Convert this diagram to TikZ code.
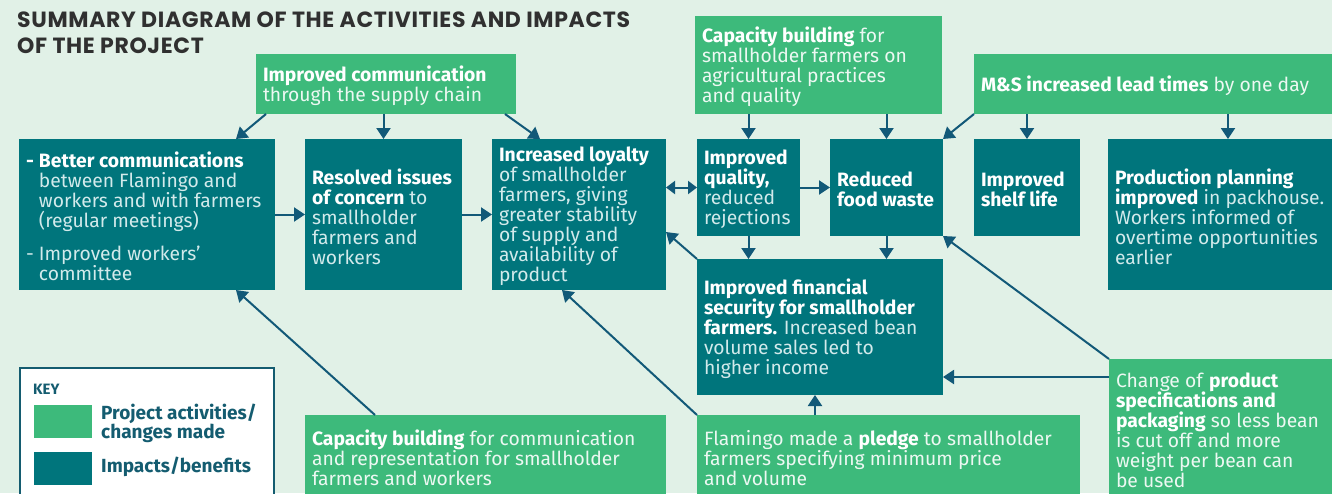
\documentclass[tikz,border=0pt]{standalone}
\usepackage{fontspec}
\setmainfont{Fira Sans}
\newfontfamily\titlefont{Poppins}[LetterSpace=3]
\usetikzlibrary{arrows.meta,calc}
\definecolor{bg}{RGB}{225,241,231}
\definecolor{tealbox}{RGB}{0,117,124}
\definecolor{greenbox}{RGB}{61,186,123}
\definecolor{arr}{RGB}{18,89,120}
\definecolor{lighttxt}{RGB}{210,234,235}
\definecolor{keytxt}{RGB}{20,92,112}
\definecolor{titletxt}{RGB}{48,48,48}
\newcommand\hb[1]{\textbf{\color{white}#1}}
\newcommand\mkbox[7]{%
  \node[#1, minimum width=#5pt, minimum height=#6pt] (#2) at (#3,#4) {};
  \node[#1 txt] (#2t) at ([xshift=7pt,yshift=-2pt]#2.west) {#7};}
\hyphenpenalty=10000
\exhyphenpenalty=10000
\begin{document}
\begin{tikzpicture}[x=1pt,y=-1pt,
  every node/.style={font=\fontsize{19.3}{20}\selectfont},
  boxbase/.style={anchor=north west, inner sep=0pt, outer sep=0pt},
  impact/.style={boxbase, fill=tealbox},
  activity/.style={boxbase, fill=greenbox},
  txtbase/.style={anchor=west, inner sep=0pt, outer sep=0pt, align=left},
  impact txt/.style={txtbase, text=lighttxt},
  activity txt/.style={txtbase, text=white!90!greenbox},
  conn/.style={draw=arr, line width=2pt, -{Triangle[width=14pt,length=11pt]}},
  dconn/.style={draw=arr, line width=2pt, {Triangle[width=13pt,length=9pt]}-{Triangle[width=13pt,length=9pt]}},
]
\path[use as bounding box, fill=bg] (0,0) rectangle (1332,493);
\begin{scope}
\clip (0,0) rectangle (1332,493);
% title
\node[anchor=north west, inner sep=0pt, align=left, text=titletxt,
  font=\fontsize{22}{26}\selectfont\titlefont\bfseries] (title) at (17,12)
  {SUMMARY DIAGRAM OF THE ACTIVITIES AND IMPACTS\\OF THE PROJECT};

% activities (green)
\mkbox{activity}{comm}{256}{54}{260}{60}
  {\hb{Improved communication}\\through the supply chain}
\mkbox{activity}{capt}{695}{16}{247}{98}
  {\hb{Capacity building} for\\smallholder farmers on\\agricultural practices\\and quality}
\mkbox{activity}{ms}{974}{54}{366}{60}
  {\hb{M\&S increased lead times} by one day}
\mkbox{activity}{capb}{305}{415}{361}{82}
  {\hb{Capacity building} for communication\\and representation for smallholder\\farmers and workers}
\mkbox{activity}{pledge}{697}{415}{383}{82}
  {Flamingo made a \hb{pledge} to smallholder\\farmers specifying minimum price\\and volume}
\mkbox{activity}{chg}{1109}{359}{240}{138}
  {Change of \hb{product}\\\hb{specifications and}\\\hb{packaging} so less bean\\is cut off and more\\weight per bean can\\be used}

% impacts (teal)
\mkbox{impact}{a}{19}{139}{256}{151}
  {\makebox[13pt][l]{\color{white}\bfseries -}\hb{Better communications}\\
   \hspace*{13pt}between Flamingo and\\
   \hspace*{13pt}workers and with farmers\\
   \hspace*{13pt}(regular meetings)\\[13pt]
   \makebox[13pt][l]{-}Improved workers'\\
   \hspace*{13pt}committee}
\mkbox{impact}{b}{305}{139}{157}{151}
  {\hb{Resolved issues}\\\hb{of concern} to\\smallholder\\farmers and\\workers}
\mkbox{impact}{c}{492}{139}{174}{151}
  {\hb{Increased loyalty}\\of smallholder\\farmers, giving\\greater stability\\of supply and\\availability of\\product}
\mkbox{impact}{d}{697}{139}{103}{97}
  {\hb{Improved}\\\hb{quality,}\\reduced\\rejections}
\mkbox{impact}{e}{830}{139}{113}{97}
  {\hb{Reduced}\\\hb{food waste}}
\mkbox{impact}{f}{974}{139}{106}{97}
  {\hb{Improved}\\\hb{shelf life}}
\mkbox{impact}{g}{1108}{139}{240}{151}
  {\hb{Production planning}\\\hb{improved} in packhouse.\\Workers informed of\\overtime opportunities\\earlier}
\mkbox{impact}{h}{697}{259}{246}{136}
  {\hb{Improved financial}\\\hb{security for smallholder}\\\hb{farmers.} Increased bean\\volume sales led to\\higher income}

% key
\node[anchor=north west, draw=keytxt, line width=1.5pt, fill=white, minimum width=254pt, minimum height=140pt, inner sep=0pt] (key) at (19,367) {};
\node[anchor=west, inner sep=0pt, text=keytxt, font=\fontsize{15}{17}\selectfont\bfseries] (keyt) at (33,389) {KEY};
\node[anchor=north west, fill=greenbox, minimum width=58pt, minimum height=33pt, inner sep=0pt] (keyg) at (34,405) {};
\node[anchor=north west, fill=tealbox, minimum width=58pt, minimum height=33pt, inner sep=0pt] (keyb) at (34,452) {};
\node[anchor=west, inner sep=0pt, align=left, text=keytxt, font=\fontsize{19}{19}\selectfont\bfseries] (keygl) at (101,423) {Project activities/\\changes made};
\node[anchor=west, inner sep=0pt, text=keytxt, font=\fontsize{19}{19}\selectfont\bfseries] (keybl) at (101,467) {Impacts/benefits};

% connectors
\draw[conn] ($(comm.south west)+(10,0)$) -- ($(a.north east)+(-39,0)$);
\draw[conn] (comm.south -| b.north) -- (b.north);
\draw[conn] ($(comm.south east)+(-11,0)$) -- ($(c.north west)+(48,0)$);
\draw[conn] (a.east) -- (b.west);
\draw[conn] (b.east) -- (c.west);
\draw[dconn] (c.east |- d.west) -- (d.west);
\draw[conn] (d.east) -- (e.west);
\draw[conn] (capt.south -| d.north) -- (d.north);
\draw[conn] (capt.south -| e.north) -- (e.north);
\draw[conn] (ms.south west) -- (e.north east);
\draw[conn] (ms.south -| f.north) -- (f.north);
\draw[conn] (ms.south -| g.north) -- (g.north);
\draw[conn] (d.south) -- (d.south |- h.north);
\draw[conn] (e.south) -- (e.south |- h.north);
\draw[conn] ($(chg.west |- h.south)+(0,-18)$) -- ($(h.south east)+(0,-18)$);
\draw[conn] (chg.north west) -- (e.south east);
\draw[conn] ($(pledge.north west)+(118,0)$) -- ($(h.south west)+(118,0)$);
\draw[conn] (h.north west) -- ($(c.south east)+(0,-58)$);
\draw[conn] (pledge.north west) -- ($(c.south west)+(70,0)$);
\draw[conn] ($(capb.north west)+(70,0)$) -- ($(a.south east)+(-39,0)$);
\end{scope}
\end{tikzpicture}
\end{document}
